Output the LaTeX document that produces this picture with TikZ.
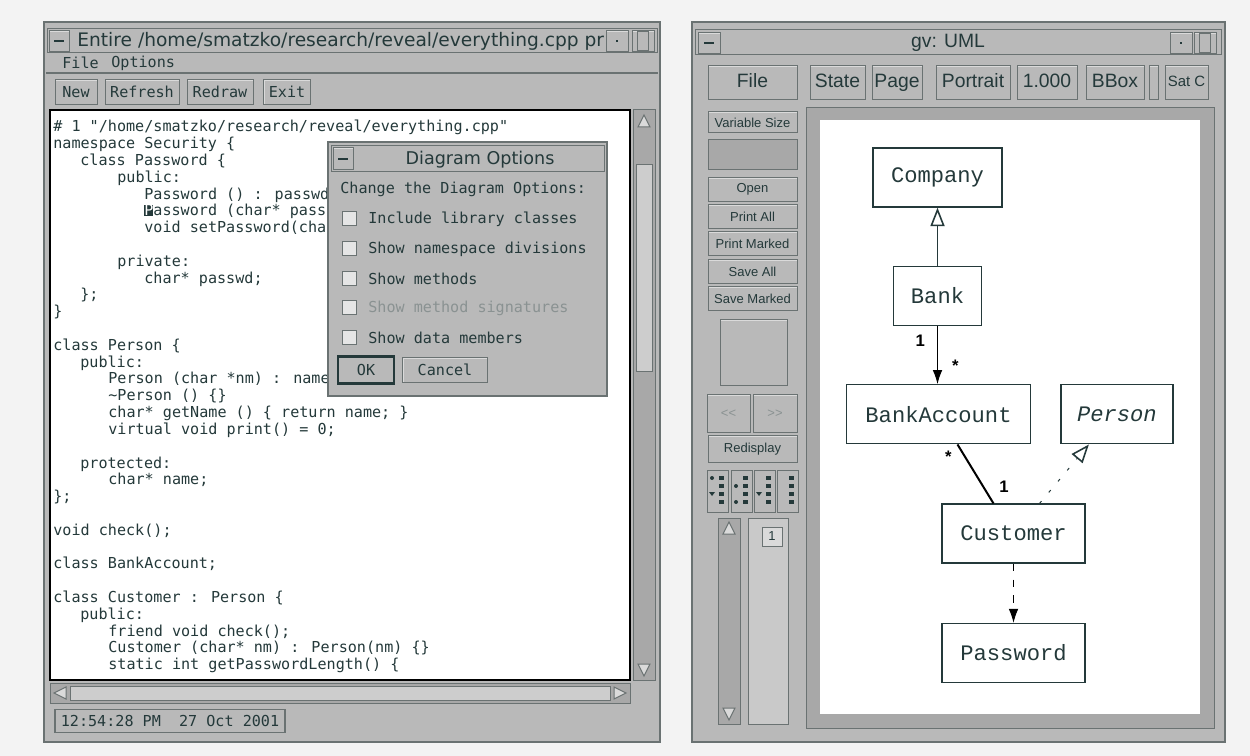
\documentclass[tikz,border=0pt]{standalone}
\usepackage{fontspec}
\usetikzlibrary{positioning,arrows.meta}
\newfontfamily\codefont{DejaVu Sans Mono}
\newfontfamily\umlfont{Liberation Mono}
\newfontfamily\guifont{Liberation Sans}
\newfontfamily\barfont{DejaVu Sans}
\newlength\px
\setlength\px{0.02cm}
\definecolor{pagebg}{HTML}{F3F3F3}
\definecolor{wingray}{HTML}{B9B9B9}
\definecolor{winlight}{HTML}{DADADA}
\definecolor{windark}{HTML}{6A7272}
\definecolor{trough}{HTML}{A8A8A8}
\definecolor{ink}{HTML}{24393A}
\definecolor{dimink}{HTML}{8A9292}
\tikzset{win/.style={draw=windark, fill=wingray, line width=1.2\px}}
\tikzset{sunk/.style={draw=windark, fill=trough, line width=1\px}}
\tikzset{btn/.style={draw=windark, fill=wingray, inner sep=0pt, text=ink, line width=1\px,
    path picture={\draw[winlight, line width=2.5\px] (path picture bounding box.south west) -- (path picture bounding box.north west) -- (path picture bounding box.north east);}}}
\tikzset{code/.style={font=\codefont\fontsize{8.6}{9.5}\selectfont, text=ink, inner sep=0pt, anchor=base west}}
\tikzset{gui/.style={font=\guifont\fontsize{11}{12}\selectfont}}
\tikzset{small/.style={font=\guifont\fontsize{7.4}{8}\selectfont}}
\tikzset{cls/.style={draw=ink, line width=1.4\px, fill=white, text=ink, inner sep=0pt, minimum height=59\px, font=\umlfont\fontsize{12.6}{14}\selectfont}}
\tikzset{mult/.style={font=\guifont\bfseries\fontsize{9.5}{10}\selectfont, text=black, inner sep=0pt}}
\tikzset{assoc/.style={draw=black, line width=1\px, -{Latex[length=8pt, width=5.5pt]}}}
\tikzset{inherit/.style={draw=ink, line width=1\px, -{Triangle[open, length=10.5pt, width=8pt, line width=0.9pt]}}}

\begin{document}
\begin{tikzpicture}[x=1\px, y=-1\px]
	\fill[pagebg] (0,0) rectangle (1250,756);
	\useasboundingbox (0,0) rectangle (1250,756);

	% ---- left window: source view
	\draw[win] (44,22) rectangle (660,742);
	\draw[sunk, fill=wingray] (47,29) rectangle (657,53);
	\node[btn, minimum width=20\px, minimum height=21\px] (lmin) at (59,41) {\textcolor{ink}{\rule{10\px}{1.5\px}}};
	\begin{scope}
		\clip (72,29) rectangle (604,53);
		\node[anchor=west, inner sep=0pt, text=ink, font=\barfont\fontsize{10.6}{12}\selectfont] (ltitle) at (77,41) {Entire /home/smatzko/research/reveal/everything.cpp pr};
	\end{scope}
	\node[btn, minimum width=22\px, minimum height=21\px] (ldot) at (617,41) {\textcolor{ink}{\rule{2\px}{2\px}}};
	\node[btn, minimum width=22\px, minimum height=21\px] (lmax) at (643,41) {\textcolor{windark}{\framebox[12\px]{\rule{0pt}{8\px}}}};

	\node[code, anchor=west] (mfile) at (62,63) {File};
	\node[code, anchor=west] (mopt) at (111,63) {Options};
	\draw[windark, line width=1.5\px] (46,73) -- (658,73);

	\node[btn, code, anchor=center, minimum width=42\px, minimum height=25\px] (bnew) at (76,92) {New};
	\node[btn, code, anchor=center, minimum width=74\px, minimum height=25\px] (bref) at (142,92) {Refresh};
	\node[btn, code, anchor=center, minimum width=66\px, minimum height=25\px] (bredraw) at (220,92) {Redraw};
	\node[btn, code, anchor=center, minimum width=47\px, minimum height=25\px] (bexit) at (287,92) {Exit};

	\draw[fill=white, draw=black, line width=1.5\px] (50,110) rectangle (630,680);
	\node[code] (c0) at (53,132) {\# 1 "/home/smatzko/research/reveal/everything.cpp"};
	\node[code] (c1) at (53,148.8) {namespace Security \{};
	\node[code] (c2) at (80,165.6) {class Password \{};
	\node[code] (c3) at (117,182.4) {public:};
	\node[code] (c4) at (144,199.2) {Password () : passwd};
	\node[code] (c5) at (144,216) {{\setlength\fboxsep{0pt}\colorbox{ink}{\textcolor{white}{P}}}assword (char* pass};
	\node[code] (c6) at (144,232.8) {void setPassword(cha};
	\node[code] (c8) at (117,266.4) {private:};
	\node[code] (c9) at (144,283.2) {char* passwd;};
	\node[code] (c10) at (80,300) {\};};
	\node[code] (c11) at (53,316.8) {\}};
	\node[code] (c13) at (53,350.4) {class Person \{};
	\node[code] (c14) at (80,367.2) {public:};
	\node[code] (c15) at (108,384) {Person (char *nm) : name};
	\node[code] (c16) at (108,400.8) {\textasciitilde Person () \{\}};
	\node[code] (c17) at (108,417.6) {char* getName () \{ return name; \}};
	\node[code] (c18) at (108,434.4) {virtual void print() = 0;};
	\node[code] (c20) at (80,468) {protected:};
	\node[code] (c21) at (108,484.8) {char* name;};
	\node[code] (c22) at (53,501.6) {\};};
	\node[code] (c24) at (53,535.2) {void check();};
	\node[code] (c26) at (53,568.8) {class BankAccount;};
	\node[code] (c28) at (53,602.4) {class Customer : Person \{};
	\node[code] (c29) at (80,619.2) {public:};
	\node[code] (c30) at (108,636) {friend void check();};
	\node[code] (c31) at (108,652.8) {Customer (char* nm) : Person(nm) \{\}};
	\node[code] (c32) at (108,669.6) {static int getPasswordLength() \{};

	% scroll bars
	\draw[sunk] (633,110) rectangle (655,680);
	\filldraw[fill=winlight, draw=windark, line width=1\px] (638,127) -- (644,115) -- (650,127) -- cycle;
	\filldraw[fill=winlight!60!wingray, draw=windark, line width=1\px] (636,165) rectangle (652,372);
	\filldraw[fill=winlight, draw=windark, line width=1\px] (638,664) -- (644,676) -- (650,664) -- cycle;
	\draw[sunk] (50,683) rectangle (630,703);
	\filldraw[fill=winlight!60!wingray, draw=windark, line width=1\px] (70,686) rectangle (610,700);
	\filldraw[fill=winlight, draw=windark, line width=1\px] (66,687) -- (54,693) -- (66,699) -- cycle;
	\filldraw[fill=winlight, draw=windark, line width=1\px] (614,687) -- (626,693) -- (614,699) -- cycle;

	\node[draw=windark, line width=1.2\px, code, anchor=center, minimum width=230\px, minimum height=23\px] (clock) at (170,721) {12:54:28 PM\ \ 27 Oct 2001};

	% ---- dialog
	\draw[win, line width=1.5\px] (328,142) rectangle (607,396);
	\draw[sunk, fill=wingray] (331,146) rectangle (604,172);
	\node[btn, minimum width=20\px, minimum height=22\px] (dmin) at (343,159) {\textcolor{ink}{\rule{10\px}{1.5\px}}};
	\node[inner sep=0pt, text=ink, font=\barfont\fontsize{10}{12}\selectfont] (dtitle) at (480,160) {Diagram Options};
	\node[code, anchor=west] (dhead) at (340,189) {Change the Diagram Options:};
	\foreach \y in {219,249,279,308,338}
		\filldraw[fill=winlight!70!white, draw=windark, line width=1\px] (342,\y-7) rectangle (356,\y+7);
	\node[code, anchor=west] (o1) at (368,219) {Include library classes};
	\node[code, anchor=west] (o2) at (368,249) {Show namespace divisions};
	\node[code, anchor=west] (o3) at (368,279) {Show methods};
	\node[code, anchor=west, text=dimink] (o4) at (368,308) {Show method signatures};
	\node[code, anchor=west] (o5) at (368,338) {Show data members};
	\node[btn, code, anchor=center, draw=ink, line width=2.5\px, minimum width=56\px, minimum height=27\px] (ok) at (366,370) {OK};
	\node[btn, code, anchor=center, minimum width=85\px, minimum height=25\px] (cancel) at (445,370) {Cancel};

	% ---- right window: gv
	\draw[win] (692,22) rectangle (1225,742);
	\draw[sunk, fill=wingray] (695,30) rectangle (1221,55);
	\node[btn, minimum width=22\px, minimum height=21\px] (rmin) at (709,43) {\textcolor{ink}{\rule{10\px}{1.5\px}}};
	\node[gui, text=ink, inner sep=0pt] (rtitle) at (948,43) {gv: UML};
	\node[btn, minimum width=22\px, minimum height=21\px] (rdot) at (1181,43) {\textcolor{ink}{\rule{2\px}{2\px}}};
	\node[btn, minimum width=22\px, minimum height=21\px] (rmax) at (1205,43) {\textcolor{windark}{\framebox[12\px]{\rule{0pt}{8\px}}}};

	\node[btn, gui, minimum width=89\px, minimum height=34\px] (gfile) at (752.5,83) {File\strut};
	\node[btn, gui, minimum width=55\px, minimum height=34\px] (gstate) at (837.5,83) {State\strut};
	\node[btn, gui, minimum width=50\px, minimum height=34\px] (gpage) at (897,83) {Page\strut};
	\node[btn, gui, minimum width=74\px, minimum height=34\px] (gport) at (973,83) {Portrait\strut};
	\node[btn, gui, minimum width=60\px, minimum height=34\px] (gscale) at (1047,83) {1.000\strut};
	\node[btn, gui, minimum width=58\px, minimum height=34\px] (gbbox) at (1115,83) {BBox\strut};
	\node[btn, minimum width=9\px, minimum height=34\px] (gsep) at (1153.5,83) {};
	\node[btn, font=\guifont\fontsize{8.5}{10}\selectfont, minimum width=43\px, minimum height=34\px] (gsat) at (1186.5,83) {Sat C\strut};

	\node[btn, small, minimum width=89\px, minimum height=21\px] (vsize) at (752.5,122.5) {Variable Size};
	\draw[sunk] (708,140) rectangle (797,170);
	\node[btn, small, minimum width=89\px, minimum height=24\px] (gopen) at (752.5,189.5) {Open};
	\node[btn, small, minimum width=89\px, minimum height=24\px] (gprall) at (752.5,216.5) {Print All};
	\node[btn, small, minimum width=89\px, minimum height=24\px] (gprmk) at (752.5,244) {Print Marked};
	\node[btn, small, minimum width=89\px, minimum height=24\px] (gsvall) at (752.5,271.5) {Save All};
	\node[btn, small, minimum width=89\px, minimum height=24\px] (gsvmk) at (752.5,298.5) {Save Marked};
	\node[btn, minimum width=67\px, minimum height=66\px] (gpanel) at (753.5,353) {};
	\node[btn, small, text=dimink, minimum width=43\px, minimum height=38\px] (gprev) at (728.5,414) {<<};
	\node[btn, small, text=dimink, minimum width=44\px, minimum height=38\px] (gnext) at (775,414) {>>};
	\node[btn, small, minimum width=89\px, minimum height=26\px] (gredisp) at (752.5,449) {Redisplay};
	\foreach \cx in {717.5,741.5,764.5,787.5} {
		\node[btn, minimum width=21\px, minimum height=42\px] at (\cx,491) {};
		\foreach \ry in {478,486,494,502}
			\fill[ink] (\cx+1,\ry-2) rectangle (\cx+6,\ry+2);
	}
	\fill[ink] (712,478) circle (2);
	\fill[ink] (709,492) -- (715,492) -- (712,496) -- cycle;
	\fill[ink] (736,486) circle (2);
	\fill[ink] (736,502) circle (2);
	\fill[ink] (756,492) -- (762,492) -- (759,496) -- cycle;

	\draw[sunk] (718,518) rectangle (740,724);
	\filldraw[fill=winlight, draw=windark, line width=1\px] (723,534) -- (729,522) -- (735,534) -- cycle;
	\filldraw[fill=winlight, draw=windark, line width=1\px] (723,708) -- (729,720) -- (735,708) -- cycle;
	\filldraw[fill=winlight!50!wingray, draw=windark, line width=1\px] (748,518) rectangle (788,724);
	\node[draw=windark, fill=winlight, line width=1\px, small, text=ink, minimum width=20\px, minimum height=19\px, inner sep=0pt] (pg1) at (772,536.5) {1};

	\draw[sunk] (806,108) rectangle (1214,728);
	\fill[white] (820,120) rectangle (1200,714);

	% ---- class diagram
	\node[cls, minimum width=129\px] (company) at (937.5,177.5) {Company};
	\node[cls, minimum width=88\px, below=1.16cm of company] (bank) {Bank};
	\node[cls, minimum width=184\px, below=1.16cm of bank, xshift=1\px] (bankacct) {BankAccount};
	\node[cls, minimum width=112\px, right=0.58cm of bankacct] (person) {\itshape Person};
	\node[cls, minimum width=143\px, below=1.18cm of bankacct, xshift=75\px] (customer) {Customer};
	\node[cls, minimum width=143\px, below=1.18cm of customer] (password) {Password};

	\draw[inherit] (bank) -- (company);
	\draw[assoc] (bank.south) -- (bank.south |- bankacct.north)
		node[mult, pos=0.25, left=12\px] (m1) {1}
		node[mult, pos=0.68, right=14\px] (m2) {*};
	\draw[black, line width=2\px] ([xshift=19\px]bankacct.south) -- ([xshift=-20\px]customer.north)
		node[mult, pos=0.2, left=12\px] (m3) {*}
		node[mult, pos=0.72, right=15\px] (m4) {1};
	\draw[inherit, dash pattern=on 1.7pt off 6.5pt] ([xshift=26\px]customer.north) -- ([xshift=-28\px]person.south);
	\draw[assoc, dash pattern=on 4pt off 5pt] (customer) -- (password);
\end{tikzpicture}
\end{document}
